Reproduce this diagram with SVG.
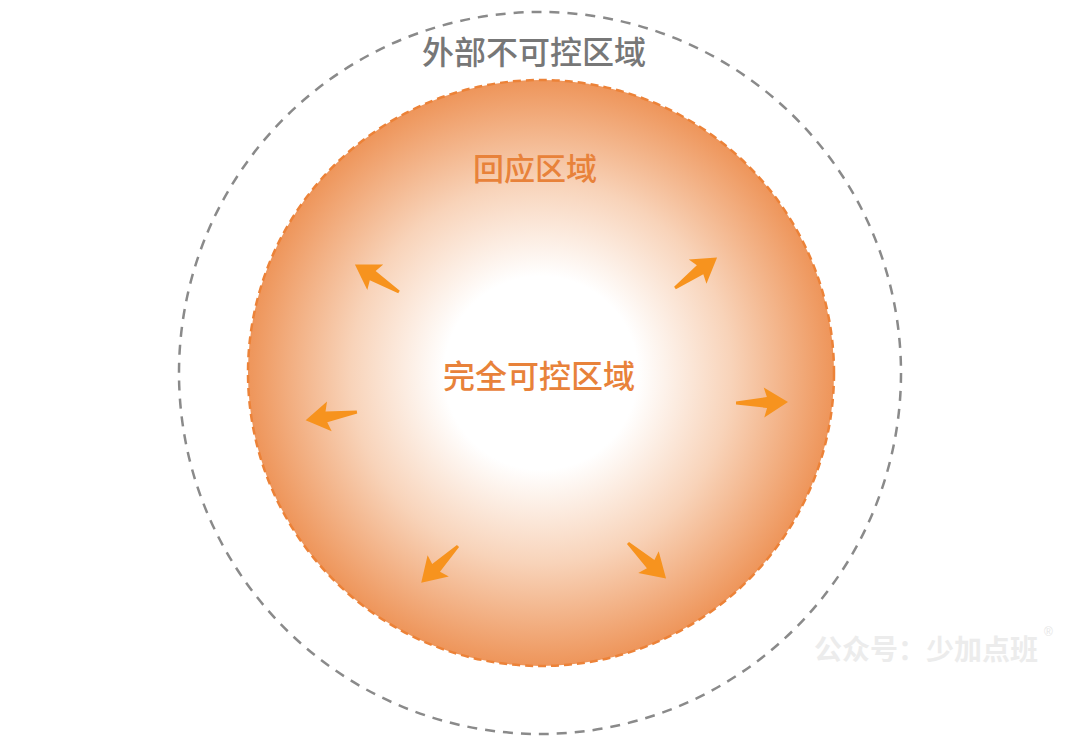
<svg xmlns="http://www.w3.org/2000/svg" width="1080" height="750" viewBox="0 0 1080 750">
<defs>
<radialGradient id="g" cx="0.5" cy="0.5" r="0.5">
<stop offset="0" stop-color="#ffffff"/>
<stop offset="0.33" stop-color="#ffffff"/>
<stop offset="0.65" stop-color="#f8d3b9"/>
<stop offset="1" stop-color="#ee955a"/>
</radialGradient>
<polygon id="arr" points="0,-1.5 31,-5.5 28,-15 52,0 28,15 31,5.5 0,1.5"/>
<style>
.t{font-family:"Noto Sans CJK SC",sans-serif;font-weight:500;text-anchor:middle}
.a{fill:#f7931e}
</style>
</defs>
<rect width="1080" height="750" fill="#ffffff"/>
<g id="outer">
<circle cx="540" cy="373" r="361" fill="none" stroke="#8a8a8a" stroke-width="2.5" stroke-dasharray="10 8"/>
<text class="t" x="534" y="64" font-size="32" fill="#777777">外部不可控区域</text>
</g>
<g id="inner">
<circle cx="541" cy="373" r="293" fill="url(#g)" stroke="#ec8238" stroke-width="2.5" stroke-dasharray="8 5"/>
<text class="t" x="535" y="180" font-size="31" fill="#e8823a">回应区域</text>
<text class="t" x="539" y="388" font-size="32" fill="#e8823a">完全可控区域</text>
</g>
<g id="connectors" class="a">
<use href="#arr" transform="translate(399,292) rotate(-148)"/>
<use href="#arr" transform="translate(675,288) rotate(-36)"/>
<use href="#arr" transform="translate(357,412) rotate(171)"/>
<use href="#arr" transform="translate(736,403) rotate(-1)"/>
<use href="#arr" transform="translate(458,546) rotate(135)"/>
<use href="#arr" transform="translate(628,543) rotate(43)"/>
</g>
<g id="watermark">
<text x="926" y="660" font-size="28" fill="#ececec" font-family="Noto Sans CJK SC, sans-serif" font-weight="700" text-anchor="middle">公众号：少加点班</text>
<text x="1044" y="636" font-size="12" fill="#e6e6e6" font-family="Liberation Sans, sans-serif">®</text>
</g>
</svg>
